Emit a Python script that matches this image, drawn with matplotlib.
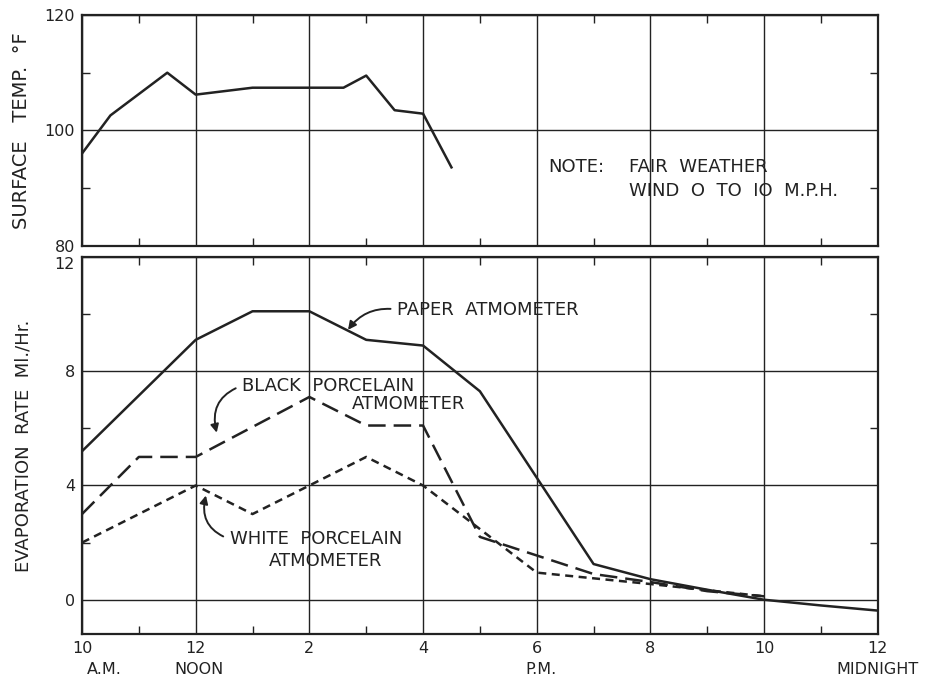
import matplotlib
matplotlib.use("Agg")
import matplotlib.pyplot as plt
from matplotlib.ticker import MultipleLocator, FixedLocator

# Surface temperature (deg F) against hour of day (10 = 10 A.M., 24 = midnight)
hours_temp = [10, 10.5, 11.5, 12, 13, 14.6, 15, 15.5, 16, 16.5]
surface_temp = [96.0, 102.6, 110.0, 106.2, 107.4, 107.4, 109.5, 103.5, 102.9, 93.6]

# Evaporation rates (Ml./Hr.)
hours_paper = [10, 12, 13, 14, 15, 16, 17, 19, 20, 21, 22, 23, 24]
paper = [5.2, 9.1, 10.1, 10.1, 9.1, 8.9, 7.3, 1.25, 0.72, 0.35, 0.0, -0.2, -0.38]

hours_black = [10, 11, 12, 14, 15, 16, 17, 19, 20, 21, 22]
black = [3.0, 5.0, 5.0, 7.1, 6.1, 6.1, 2.2, 0.9, 0.62, 0.3, 0.12]

hours_white = [10, 12, 13, 14, 15, 16, 18, 20, 22]
white = [2.0, 4.0, 3.0, 4.0, 5.0, 4.0, 0.95, 0.55, 0.12]

x_ticks = [10, 12, 14, 16, 18, 20, 22, 24]
x_ticklabels = ["10", "12", "2", "4", "6", "8", "10", "12"]
x_sublabels = {10.4: "A.M.", 12.05: "NOON", 18.07: "P.M.", 24: "MIDNIGHT"}

temp_ticks = [80, 100, 120]
rate_ticks = [0, 4, 8, 12]

INK = "#222222"
FS = 13
plt.rcParams["font.family"] = ["DejaVu Sans"]


def style_axes(ax, yticks, yminor):
    ax.set_xlim(10, 24)
    ax.xaxis.set_major_locator(FixedLocator(x_ticks))
    ax.xaxis.set_minor_locator(MultipleLocator(1))
    ax.yaxis.set_major_locator(FixedLocator(yticks))
    ax.yaxis.set_minor_locator(MultipleLocator(yminor))
    ax.set_yticklabels([str(v) for v in yticks])
    ax.grid(True, which="major", color=INK, lw=1.0)
    ax.tick_params(which="major", length=0, labelsize=11.5, colors=INK, pad=5)
    ax.tick_params(which="minor", direction="in", length=6, width=1.0,
                   top=True, bottom=True, left=True, right=True, color=INK)
    for s in ax.spines.values():
        s.set_color(INK)
        s.set_linewidth(1.6)
    ax.set_axisbelow(True)


fig = plt.figure(figsize=(9.34, 6.81), dpi=100)
ax_t = fig.add_axes([0.0878, 0.639, 0.852, 0.339])
ax_b = fig.add_axes([0.0878, 0.069, 0.852, 0.5536])

# --- top panel ---
style_axes(ax_t, temp_ticks, 10)
ax_t.set_ylim(80, 120)
ax_t.tick_params(axis="x", labelbottom=False)
ax_t.plot(hours_temp, surface_temp, color=INK, lw=1.8)
ax_t.set_ylabel("SURFACE   TEMP.  °F", fontsize=14, color=INK, labelpad=10)
ax_t.text(18.21, 93.6, "NOTE:", fontsize=FS, color=INK, va="center")
ax_t.text(19.63, 93.6, "FAIR  WEATHER", fontsize=FS, color=INK, va="center")
ax_t.text(19.63, 89.45, "WIND  O  TO  IO  M.P.H.", fontsize=FS, color=INK, va="center")

# --- bottom panel ---
style_axes(ax_b, rate_ticks, 2)
ax_b.set_ylim(-1.2, 12)
ax_b.set_xticklabels(x_ticklabels)
ax_b.get_yticklabels()[-1].set_va("top")
ax_b.plot(hours_paper, paper, color=INK, lw=1.8)
lb, = ax_b.plot(hours_black, black, color=INK, lw=1.8)
lb.set_dashes((7, 3.2))
lw_, = ax_b.plot(hours_white, white, color=INK, lw=1.8)
lw_.set_dashes((3.2, 2.2))
ax_b.set_ylabel("EVAPORATION  RATE  Ml./Hr.", fontsize=13, color=INK, labelpad=16)

for xv, txt in x_sublabels.items():
    ax_b.text(xv, -0.095, txt, transform=ax_b.get_xaxis_transform(),
              ha="center", va="center", fontsize=11.5, color=INK)

arrow = dict(arrowstyle="-|>", color=INK, lw=1.4, mutation_scale=12,
             relpos=(0, 0.5), shrinkA=3, shrinkB=0)
ax_b.annotate("PAPER  ATMOMETER", xy=(14.68, 9.45), xytext=(15.55, 10.16),
              fontsize=FS, color=INK, va="center", ha="left",
              arrowprops=dict(arrow, connectionstyle="arc3,rad=0.3"))
ax_b.annotate("BLACK  PORCELAIN", xy=(12.37, 5.85), xytext=(12.82, 7.5),
              fontsize=FS, color=INK, va="center", ha="left",
              arrowprops=dict(arrow, connectionstyle="arc3,rad=0.45"))
ax_b.text(16.75, 6.84, "ATMOMETER", fontsize=FS, color=INK, va="center", ha="right")
ax_b.annotate("WHITE  PORCELAIN", xy=(12.18, 3.65), xytext=(12.6, 2.12),
              fontsize=FS, color=INK, va="center", ha="left",
              arrowprops=dict(arrow, connectionstyle="arc3,rad=-0.45"))
ax_b.text(14.28, 1.35, "ATMOMETER", fontsize=FS, color=INK, va="center", ha="center")

fig.savefig("out.png", dpi=100)
